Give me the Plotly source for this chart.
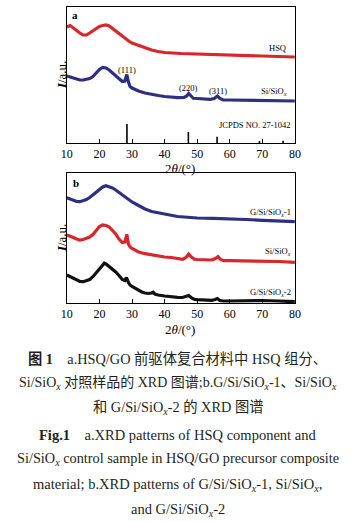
import plotly.graph_objects as go

# ---------------- data (2θ in degrees, intensity in a.u.) ----------------
# Panel a
hsq_x = [10, 11, 12, 13, 14, 15, 16, 17, 18, 19, 20, 21, 22, 23, 24, 25, 26, 27, 28, 29, 30,
         32, 34, 36, 38, 40, 45, 50, 55, 60, 65, 70, 75, 80]
hsq_y = [116, 117.5, 115, 112, 110, 108, 108, 110, 112.5, 115, 116.5, 117.5, 118, 117, 114.5,
         112, 109, 106, 103.5, 102, 100, 97.5, 95, 93, 91.5, 90.5, 89.5, 89, 88.5, 88, 87.5,
         87, 86.5, 86]

sia_x = [10, 11, 12, 13, 14, 15, 16, 17, 18, 19, 20, 21, 22, 23, 24, 25, 26, 27, 27.8, 28.4,
         28.9, 29.4, 30, 31, 32, 34, 36, 38, 40, 42, 44, 46, 46.8, 47.4, 48, 48.8, 50, 52, 54,
         55.2, 56.2, 57, 58, 60, 65, 70, 75, 80]
sia_y = [67, 66, 65, 64, 63, 63, 63.5, 64.5, 66.5, 70, 73.5, 75.5, 75, 73, 70, 66.5, 63.5,
         61.5, 62, 68.5, 61, 56.5, 55, 53.5, 52, 50, 48.5, 47.5, 46.5, 45.8, 45.3, 45.5, 47,
         49.5, 47, 44.7, 44.5, 44, 43.7, 44.5, 47, 44.5, 43, 43, 42.8, 42.5, 42.2, 42]

jcpds_x = [28.44, 47.30, 56.12, 69.13, 76.38]
jcpds_h = [19, 11, 6.3, 2, 2.2]

# Panel b
g1_x = [10, 11, 12, 13, 14, 15, 16, 17, 18, 19, 20, 21, 22, 23, 24, 25, 26, 27, 28, 29, 30,
        32, 34, 36, 38, 40, 42, 44, 46, 48, 50, 55, 60, 65, 70, 75, 80]
g1_y = [105.3, 104, 102.5, 101.5, 101.3, 102, 103.5, 105.5, 108, 111, 114, 116, 117.3, 116.5,
        115, 113, 110.5, 108, 105.5, 103, 101, 97.5, 94, 91.5, 90, 88.7, 87.7, 86.5, 86, 85.5,
        85, 84.7, 84.5, 83.5, 82.7, 82, 81.3]

sib_x = [10, 11, 12, 13, 14, 15, 16, 17, 18, 19, 20, 21, 22, 23, 24, 25, 26, 27, 27.8, 28.4,
         28.9, 29.4, 30, 31, 32, 34, 36, 38, 40, 42, 44, 45.6, 46.7, 47.4, 48.2, 49.2, 50, 52,
         54.5, 55.6, 56.4, 57.2, 58, 60, 65, 70, 75, 80]
sib_y = [68, 67, 65.5, 64, 63, 63.5, 64.5, 66, 68.5, 72.5, 76.5, 78, 77.5, 76, 73, 69, 64,
         60.5, 61, 68.7, 59, 56, 54.5, 52.5, 51, 49.3, 48, 46.7, 46, 45.5, 44.5, 43.7, 46, 49,
         46, 43.7, 43.5, 43, 43, 44.5, 46.3, 43.5, 42.3, 42.3, 42.3, 42, 41.5, 40.7]

g2_x = [10, 11, 12, 13, 14, 15, 16, 17, 18, 19, 20, 21, 21.5, 22, 23, 24, 25, 26, 27, 27.8,
        28.3, 28.9, 29.4, 30, 31, 32, 33, 34, 35, 36, 36.5, 37, 38, 40, 42, 44, 45.5, 46.5,
        47.4, 48.3, 49.2, 50, 52, 54.5, 55.5, 56.2, 57, 58, 60, 65, 70, 75, 80]
g2_y = [28, 26.5, 25, 23, 21.5, 21.3, 22, 23.5, 26.3, 30, 34.5, 38, 39.7, 39, 36.5, 33.5, 31,
        27.5, 23.5, 22.5, 25.5, 20.5, 18, 16.5, 14.5, 12.5, 11, 10, 9.5, 10, 10.8, 9, 8, 7, 6,
        5.7, 5.5, 6.2, 7.5, 5, 3.5, 3.3, 3, 2.7, 3.5, 4.5, 2.5, 2, 2, 2.5, 2.5, 2, 1.3]

x_ticks = [10, 20, 30, 40, 50, 60, 70, 80]

# ---------------- styling ----------------
W, H = 355, 522
SERIF = "Liberation Serif, 'Noto Sans CJK SC', serif"
RED = "#d8262a"
BLUE = "#2e2f80"
BLACK = "#111111"
LW = 3.2

def px_x(p):
    return p / W

def px_y(p):
    return 1 - p / H

fig = go.Figure()

fig.add_trace(go.Scatter(x=hsq_x, y=hsq_y, mode="lines", line=dict(color=RED, width=LW),
                         xaxis="x", yaxis="y", showlegend=False))
fig.add_trace(go.Scatter(x=sia_x, y=sia_y, mode="lines", line=dict(color=BLUE, width=LW),
                         xaxis="x", yaxis="y", showlegend=False))
stick_x, stick_y = [], []
for xv, hv in zip(jcpds_x, jcpds_h):
    stick_x += [xv, xv, None]
    stick_y += [0, hv, None]
fig.add_trace(go.Scatter(x=stick_x, y=stick_y, mode="lines", line=dict(color="black", width=1.6),
                         xaxis="x", yaxis="y", showlegend=False))

fig.add_trace(go.Scatter(x=g1_x, y=g1_y, mode="lines", line=dict(color=BLUE, width=LW),
                         xaxis="x2", yaxis="y2", showlegend=False))
fig.add_trace(go.Scatter(x=sib_x, y=sib_y, mode="lines", line=dict(color=RED, width=LW),
                         xaxis="x2", yaxis="y2", showlegend=False))
fig.add_trace(go.Scatter(x=g2_x, y=g2_y, mode="lines", line=dict(color=BLACK, width=LW),
                         xaxis="x2", yaxis="y2", showlegend=False))

xdom = [px_x(63), px_x(299)]
common_x = dict(range=[10, 80], tickvals=x_ticks, ticks="inside", ticklen=4, tickwidth=1,
                tickcolor="black", showline=True, mirror=True, linecolor="black", linewidth=1,
                showgrid=False, zeroline=False,
                tickfont=dict(family=SERIF, size=12, color="black"))
common_y = dict(showticklabels=False, ticks="", showline=True, mirror=True, linecolor="black",
                linewidth=1, showgrid=False, zeroline=False)

fig.update_layout(
    width=W, height=H, margin=dict(l=0, r=0, t=0, b=0),
    paper_bgcolor="white", plot_bgcolor="white", hovermode=False,
    xaxis=dict(domain=xdom, anchor="y", **common_x),
    yaxis=dict(domain=[px_y(143), px_y(7)], range=[0, 136], anchor="x", **common_y),
    xaxis2=dict(domain=xdom, anchor="y2", **common_x),
    yaxis2=dict(domain=[px_y(303), px_y(173)], range=[0, 130], anchor="x2", **common_y),
)

ann = []
lab = dict(family=SERIF, size=8.5, color="black")
# panel a labels
ann.append(dict(x=px_x(66), y=px_y(15), xref="paper", yref="paper", text="<b>a</b>",
                showarrow=False, xanchor="left", yanchor="middle",
                font=dict(family=SERIF, size=11, color="black")))
ann.append(dict(x=78.0, y=95.3, xref="x", yref="y", text="HSQ", showarrow=False,
                xanchor="right", yanchor="middle", font=lab))
ann.append(dict(x=78.2, y=51.3, xref="x", yref="y", text="Si/SiO<sub><i>x</i></sub>",
                showarrow=False, xanchor="right", yanchor="middle", font=lab))
ann.append(dict(x=28.6, y=73.0, xref="x", yref="y", text="(111)", showarrow=False,
                xanchor="center", yanchor="middle", font=lab))
ann.append(dict(x=47.4, y=55.3, xref="x", yref="y", text="(220)", showarrow=False,
                xanchor="center", yanchor="middle", font=lab))
ann.append(dict(x=56.3, y=52.3, xref="x", yref="y", text="(311)", showarrow=False,
                xanchor="center", yanchor="middle", font=lab))
ann.append(dict(x=79.3, y=18, xref="x", yref="y", text="JCPDS NO. 27-1042", showarrow=False,
                xanchor="right", yanchor="middle", font=lab))
# panel b labels
ann.append(dict(x=px_x(67), y=px_y(183), xref="paper", yref="paper", text="<b>b</b>",
                showarrow=False, xanchor="left", yanchor="middle",
                font=dict(family=SERIF, size=11, color="black")))
ann.append(dict(x=79.3, y=90.3, xref="x2", yref="y2", text="G/Si/SiO<sub><i>x</i></sub>-1",
                showarrow=False, xanchor="right", yanchor="middle", font=lab))
ann.append(dict(x=79.3, y=51.3, xref="x2", yref="y2", text="Si/SiO<sub><i>x</i></sub>",
                showarrow=False, xanchor="right", yanchor="middle", font=lab))
ann.append(dict(x=79.3, y=10.3, xref="x2", yref="y2", text="G/Si/SiO<sub><i>x</i></sub>-2",
                showarrow=False, xanchor="right", yanchor="middle", font=lab))

# axis titles
for yc in (75, 238):
    ann.append(dict(x=px_x(57), y=px_y(yc), xref="paper", yref="paper",
                    text="<b><i>I</i></b>/a.u.", textangle=-90, showarrow=False,
                    xanchor="center", yanchor="middle",
                    font=dict(family=SERIF, size=13, color="black")))
for yc in (168, 329.5):
    ann.append(dict(x=px_x(180), y=px_y(yc), xref="paper", yref="paper",
                    text="2<i>θ</i>/(°)", showarrow=False, xanchor="center", yanchor="middle",
                    font=dict(family=SERIF, size=13, color="black")))

# caption
sx = "SiO<sub><i>x</i></sub>"
caption = [
    ("<b>图 1</b>&nbsp;&nbsp;&nbsp; a.HSQ/GO 前驱体复合材料中 HSQ 组分、", 358, 14.3),
    ("Si/" + sx + " 对照样品的 XRD 图谱;b.G/Si/" + sx + "-1、Si/" + sx, 383, 14.0),
    ("和 G/Si/" + sx + "-2 的 XRD 图谱", 408, 14.3),
    ("<b>Fig.1</b>&nbsp;&nbsp;&nbsp; a.XRD patterns of HSQ component and", 435, 14.5),
    ("Si/" + sx + " control sample in HSQ/GO precursor composite", 459, 14.3),
    ("material; b.XRD patterns of G/Si/" + sx + "-1, Si/" + sx + ",", 485, 14.5),
    ("and G/Si/" + sx + "-2", 510, 14.5),
]
for txt, yc, fs in caption:
    ann.append(dict(x=0.5, y=px_y(yc), xref="paper", yref="paper", text=txt, showarrow=False,
                    xanchor="center", yanchor="middle",
                    font=dict(family=SERIF, size=fs, color="#231f20")))

fig.update_layout(annotations=ann)
fig.write_html("out.html", config={"displayModeBar": False},
               post_script="document.body.style.margin='0';document.body.style.overflow='hidden';")
